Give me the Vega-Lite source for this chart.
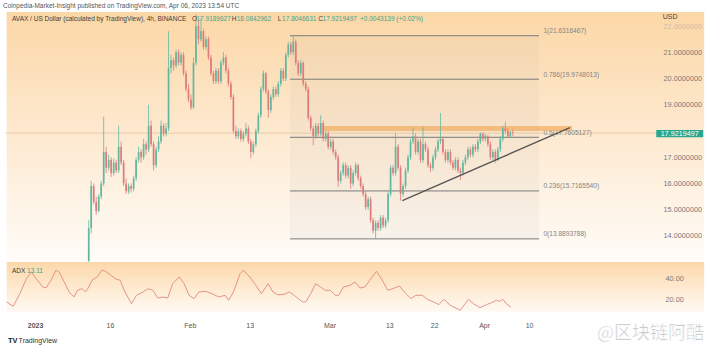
{
  "$schema": "https://vega.github.io/schema/vega-lite/v6.json",
  "width": 718,
  "height": 342,
  "autosize": {"type": "none"},
  "padding": {"left": 0, "top": 12, "right": 0, "bottom": 0},
  "background": "#ffffff",
  "config": {"view": {"stroke": null}, "font": "Liberation Sans", "axis": {"grid": false, "title": null}},
  "title": {"text": "Coinpedia-Market-Insight published on TradingView.com, Apr 06, 2023 13:54 UTC", "anchor": "start", "frame": "group", "fontSize": 6.5, "fontWeight": "normal", "color": "#555555", "font": "Liberation Sans", "offset": 3, "dx": 3},
  "datasets": {
    "candles": [
      {"d":10.75,"o":13.05,"h":14.6,"l":12.98,"c":14.3},
      {"d":11.25,"o":14.3,"h":16.1,"l":14.1,"c":15.9},
      {"d":11.75,"o":15.9,"h":16.0,"l":15.2,"c":15.3},
      {"d":12.25,"o":15.3,"h":15.5,"l":14.8,"c":14.95},
      {"d":12.75,"o":14.95,"h":15.6,"l":14.9,"c":15.5},
      {"d":13.25,"o":15.5,"h":16.1,"l":15.4,"c":16.0},
      {"d":13.75,"o":16.0,"h":18.55,"l":15.9,"c":17.2},
      {"d":14.25,"o":17.2,"h":17.4,"l":16.4,"c":16.6},
      {"d":14.75,"o":16.6,"h":17.1,"l":16.5,"c":16.9},
      {"d":15.25,"o":16.9,"h":17.0,"l":16.25,"c":16.4},
      {"d":15.75,"o":16.4,"h":16.95,"l":16.3,"c":16.8},
      {"d":16.25,"o":16.8,"h":16.9,"l":16.4,"c":16.5},
      {"d":16.75,"o":16.5,"h":18.2,"l":16.4,"c":17.4},
      {"d":17.25,"o":17.4,"h":17.6,"l":16.7,"c":16.8},
      {"d":17.75,"o":16.8,"h":16.9,"l":15.9,"c":16.0},
      {"d":18.25,"o":16.0,"h":16.2,"l":15.6,"c":15.7},
      {"d":18.75,"o":15.7,"h":16.0,"l":15.6,"c":15.9},
      {"d":19.25,"o":15.9,"h":16.0,"l":15.65,"c":15.8},
      {"d":19.75,"o":15.8,"h":16.3,"l":15.7,"c":16.2},
      {"d":20.25,"o":16.2,"h":17.0,"l":16.1,"c":16.9},
      {"d":20.75,"o":16.9,"h":17.4,"l":16.8,"c":17.2},
      {"d":21.25,"o":17.2,"h":17.3,"l":16.8,"c":17.0},
      {"d":21.75,"o":17.0,"h":17.7,"l":16.9,"c":17.5},
      {"d":22.25,"o":17.5,"h":17.6,"l":17.1,"c":17.3},
      {"d":22.75,"o":17.3,"h":19.0,"l":17.2,"c":18.2},
      {"d":23.25,"o":18.2,"h":18.4,"l":17.4,"c":17.5},
      {"d":23.75,"o":17.5,"h":17.6,"l":16.5,"c":16.7},
      {"d":24.25,"o":16.7,"h":17.4,"l":16.6,"c":17.3},
      {"d":24.75,"o":17.3,"h":17.8,"l":17.2,"c":17.6},
      {"d":25.25,"o":17.6,"h":18.4,"l":17.5,"c":18.2},
      {"d":25.75,"o":18.2,"h":18.3,"l":17.8,"c":17.9},
      {"d":26.25,"o":17.9,"h":18.3,"l":17.8,"c":18.1},
      {"d":26.75,"o":18.1,"h":21.8,"l":18.0,"c":20.4},
      {"d":27.25,"o":20.4,"h":20.9,"l":20.2,"c":20.7},
      {"d":27.75,"o":20.7,"h":20.8,"l":20.3,"c":20.5},
      {"d":28.25,"o":20.5,"h":21.1,"l":20.4,"c":21.0},
      {"d":28.75,"o":21.0,"h":21.1,"l":20.5,"c":20.6},
      {"d":29.25,"o":20.6,"h":21.0,"l":20.5,"c":20.9},
      {"d":29.75,"o":20.9,"h":21.0,"l":20.1,"c":20.2},
      {"d":30.25,"o":20.2,"h":20.3,"l":19.5,"c":19.6},
      {"d":30.75,"o":19.6,"h":19.8,"l":19.1,"c":19.2},
      {"d":31.25,"o":19.2,"h":19.4,"l":18.8,"c":18.9},
      {"d":31.75,"o":18.9,"h":20.8,"l":18.85,"c":20.6},
      {"d":32.25,"o":20.6,"h":22.45,"l":20.5,"c":22.0},
      {"d":32.75,"o":22.0,"h":22.2,"l":21.3,"c":21.5},
      {"d":33.25,"o":21.5,"h":22.3,"l":21.4,"c":21.8},
      {"d":33.75,"o":21.8,"h":21.9,"l":21.1,"c":21.2},
      {"d":34.25,"o":21.2,"h":21.6,"l":21.1,"c":21.5},
      {"d":34.75,"o":21.5,"h":21.6,"l":20.7,"c":20.8},
      {"d":35.25,"o":20.8,"h":20.9,"l":20.1,"c":20.2},
      {"d":35.75,"o":20.2,"h":20.3,"l":19.8,"c":19.9},
      {"d":36.25,"o":19.9,"h":20.4,"l":19.8,"c":20.3},
      {"d":36.75,"o":20.3,"h":20.4,"l":19.8,"c":19.9},
      {"d":37.25,"o":19.9,"h":20.7,"l":19.8,"c":20.6},
      {"d":37.75,"o":20.6,"h":21.0,"l":20.5,"c":20.8},
      {"d":38.25,"o":20.8,"h":20.9,"l":20.2,"c":20.3},
      {"d":38.75,"o":20.3,"h":20.4,"l":19.7,"c":19.8},
      {"d":39.25,"o":19.8,"h":19.9,"l":19.2,"c":19.3},
      {"d":39.75,"o":19.3,"h":19.4,"l":17.9,"c":18.0},
      {"d":40.25,"o":18.0,"h":18.2,"l":17.7,"c":17.8},
      {"d":40.75,"o":17.8,"h":18.1,"l":17.7,"c":18.0},
      {"d":41.25,"o":18.0,"h":18.1,"l":17.6,"c":17.7},
      {"d":41.75,"o":17.7,"h":18.0,"l":17.6,"c":17.9},
      {"d":42.25,"o":17.9,"h":18.3,"l":17.8,"c":18.1},
      {"d":42.75,"o":18.1,"h":18.2,"l":17.5,"c":17.6},
      {"d":43.25,"o":17.6,"h":17.7,"l":16.97,"c":17.2},
      {"d":43.75,"o":17.2,"h":17.6,"l":17.1,"c":17.5},
      {"d":44.25,"o":17.5,"h":18.1,"l":17.4,"c":18.0},
      {"d":44.75,"o":18.0,"h":18.7,"l":17.9,"c":18.6},
      {"d":45.25,"o":18.6,"h":19.7,"l":18.5,"c":19.6},
      {"d":45.75,"o":19.6,"h":20.3,"l":19.5,"c":20.2},
      {"d":46.25,"o":20.2,"h":20.25,"l":19.4,"c":19.5},
      {"d":46.75,"o":19.5,"h":19.6,"l":18.5,"c":18.8},
      {"d":47.25,"o":18.8,"h":19.4,"l":18.7,"c":19.3},
      {"d":47.75,"o":19.3,"h":19.7,"l":19.2,"c":19.6},
      {"d":48.25,"o":19.6,"h":19.7,"l":19.3,"c":19.4},
      {"d":48.75,"o":19.4,"h":19.9,"l":19.3,"c":19.8},
      {"d":49.25,"o":19.8,"h":20.4,"l":19.7,"c":20.3},
      {"d":49.75,"o":20.3,"h":20.4,"l":19.9,"c":20.0},
      {"d":50.25,"o":20.0,"h":21.0,"l":19.9,"c":20.9},
      {"d":50.75,"o":20.9,"h":21.4,"l":20.8,"c":21.3},
      {"d":51.25,"o":21.3,"h":21.4,"l":20.9,"c":21.0},
      {"d":51.75,"o":21.0,"h":21.66,"l":20.9,"c":21.4},
      {"d":52.25,"o":21.4,"h":21.5,"l":20.5,"c":20.6},
      {"d":52.75,"o":20.6,"h":20.7,"l":20.1,"c":20.2},
      {"d":53.25,"o":20.2,"h":20.7,"l":20.1,"c":20.6},
      {"d":53.75,"o":20.6,"h":20.65,"l":19.7,"c":19.8},
      {"d":54.25,"o":19.8,"h":19.9,"l":19.5,"c":19.6},
      {"d":54.75,"o":19.6,"h":19.7,"l":18.4,"c":18.5},
      {"d":55.25,"o":18.5,"h":18.6,"l":18.0,"c":18.1},
      {"d":55.75,"o":18.1,"h":18.2,"l":17.46,"c":17.8},
      {"d":56.25,"o":17.8,"h":18.3,"l":17.7,"c":18.2},
      {"d":56.75,"o":18.2,"h":18.3,"l":17.8,"c":17.9},
      {"d":57.25,"o":17.9,"h":18.6,"l":17.8,"c":18.3},
      {"d":57.75,"o":18.3,"h":18.4,"l":17.6,"c":17.7},
      {"d":58.25,"o":17.7,"h":18.0,"l":17.6,"c":17.9},
      {"d":58.75,"o":17.9,"h":18.0,"l":17.3,"c":17.4},
      {"d":59.25,"o":17.4,"h":17.7,"l":17.3,"c":17.6},
      {"d":59.75,"o":17.6,"h":17.7,"l":17.1,"c":17.2},
      {"d":60.25,"o":17.2,"h":17.3,"l":16.9,"c":17.0},
      {"d":60.75,"o":17.0,"h":17.1,"l":15.87,"c":16.1},
      {"d":61.25,"o":16.1,"h":16.5,"l":16.0,"c":16.4},
      {"d":61.75,"o":16.4,"h":16.8,"l":16.3,"c":16.7},
      {"d":62.25,"o":16.7,"h":16.8,"l":16.2,"c":16.3},
      {"d":62.75,"o":16.3,"h":16.7,"l":16.2,"c":16.6},
      {"d":63.25,"o":16.6,"h":16.7,"l":15.8,"c":16.0},
      {"d":63.75,"o":16.0,"h":16.5,"l":15.9,"c":16.4},
      {"d":64.25,"o":16.4,"h":16.8,"l":16.3,"c":16.7},
      {"d":64.75,"o":16.7,"h":16.75,"l":16.1,"c":16.2},
      {"d":65.25,"o":16.2,"h":16.3,"l":15.8,"c":15.9},
      {"d":65.75,"o":15.9,"h":16.0,"l":15.5,"c":15.6},
      {"d":66.25,"o":15.6,"h":15.7,"l":15.0,"c":15.1},
      {"d":66.75,"o":15.1,"h":15.5,"l":15.0,"c":15.4},
      {"d":67.25,"o":15.4,"h":15.5,"l":14.5,"c":14.6},
      {"d":67.75,"o":14.6,"h":14.7,"l":14.1,"c":14.2},
      {"d":68.25,"o":14.2,"h":14.6,"l":13.92,"c":14.5},
      {"d":68.75,"o":14.5,"h":14.6,"l":14.2,"c":14.3},
      {"d":69.25,"o":14.3,"h":14.8,"l":14.2,"c":14.7},
      {"d":69.75,"o":14.7,"h":14.8,"l":14.3,"c":14.4},
      {"d":70.25,"o":14.4,"h":14.7,"l":14.3,"c":14.6},
      {"d":70.75,"o":14.6,"h":15.7,"l":14.5,"c":15.6},
      {"d":71.25,"o":15.6,"h":16.7,"l":15.5,"c":16.6},
      {"d":71.75,"o":16.6,"h":16.7,"l":16.3,"c":16.4},
      {"d":72.25,"o":16.4,"h":17.92,"l":16.3,"c":17.4},
      {"d":72.75,"o":17.4,"h":17.5,"l":16.5,"c":16.6},
      {"d":73.25,"o":16.6,"h":16.7,"l":15.35,"c":15.6},
      {"d":73.75,"o":15.6,"h":16.0,"l":15.5,"c":15.9},
      {"d":74.25,"o":15.9,"h":16.6,"l":15.8,"c":16.5},
      {"d":74.75,"o":16.5,"h":17.1,"l":16.4,"c":17.0},
      {"d":75.25,"o":17.0,"h":17.7,"l":16.9,"c":17.6},
      {"d":75.75,"o":17.6,"h":18.15,"l":17.5,"c":17.8},
      {"d":76.25,"o":17.8,"h":17.9,"l":17.1,"c":17.2},
      {"d":76.75,"o":17.2,"h":17.7,"l":17.1,"c":17.6},
      {"d":77.25,"o":17.6,"h":17.7,"l":16.8,"c":16.9},
      {"d":77.75,"o":16.9,"h":18.15,"l":16.8,"c":17.5},
      {"d":78.25,"o":17.5,"h":17.6,"l":17.2,"c":17.3},
      {"d":78.75,"o":17.3,"h":17.4,"l":16.6,"c":16.7},
      {"d":79.25,"o":16.7,"h":16.8,"l":16.44,"c":16.6},
      {"d":79.75,"o":16.6,"h":17.1,"l":16.5,"c":17.0},
      {"d":80.25,"o":17.0,"h":17.4,"l":16.9,"c":17.3},
      {"d":80.75,"o":17.3,"h":17.7,"l":17.2,"c":17.6},
      {"d":81.25,"o":17.6,"h":18.69,"l":17.5,"c":17.7},
      {"d":81.75,"o":17.7,"h":17.8,"l":17.1,"c":17.2},
      {"d":82.25,"o":17.2,"h":17.3,"l":16.8,"c":16.9},
      {"d":82.75,"o":16.9,"h":17.3,"l":16.8,"c":17.2},
      {"d":83.25,"o":17.2,"h":17.3,"l":16.7,"c":16.8},
      {"d":83.75,"o":16.8,"h":16.9,"l":16.5,"c":16.6},
      {"d":84.25,"o":16.6,"h":17.0,"l":16.5,"c":16.9},
      {"d":84.75,"o":16.9,"h":17.0,"l":16.4,"c":16.5},
      {"d":85.25,"o":16.5,"h":16.6,"l":16.13,"c":16.4},
      {"d":85.75,"o":16.4,"h":16.9,"l":16.3,"c":16.8},
      {"d":86.25,"o":16.8,"h":17.1,"l":16.7,"c":17.0},
      {"d":86.75,"o":17.0,"h":17.4,"l":16.9,"c":17.3},
      {"d":87.25,"o":17.3,"h":17.4,"l":17.0,"c":17.1},
      {"d":87.75,"o":17.1,"h":17.5,"l":17.0,"c":17.4},
      {"d":88.25,"o":17.4,"h":17.5,"l":17.2,"c":17.3},
      {"d":88.75,"o":17.3,"h":17.7,"l":17.2,"c":17.6},
      {"d":89.25,"o":17.6,"h":17.95,"l":17.5,"c":17.9},
      {"d":89.75,"o":17.9,"h":17.95,"l":17.6,"c":17.7},
      {"d":90.25,"o":17.7,"h":17.9,"l":17.6,"c":17.8},
      {"d":90.75,"o":17.8,"h":17.85,"l":17.4,"c":17.5},
      {"d":91.25,"o":17.5,"h":17.6,"l":16.9,"c":17.0},
      {"d":91.75,"o":17.0,"h":17.3,"l":16.9,"c":17.2},
      {"d":92.25,"o":17.2,"h":17.3,"l":16.78,"c":16.9},
      {"d":92.75,"o":16.9,"h":17.4,"l":16.85,"c":17.3},
      {"d":93.25,"o":17.3,"h":17.8,"l":17.2,"c":17.7},
      {"d":93.75,"o":17.7,"h":18.2,"l":17.6,"c":18.1},
      {"d":94.25,"o":18.1,"h":18.36,"l":17.9,"c":18.0},
      {"d":94.75,"o":18.0,"h":18.1,"l":17.75,"c":17.8},
      {"d":95.25,"o":17.8,"h":18.0,"l":17.75,"c":17.95},
      {"d":95.75,"o":17.95,"h":18.08,"l":17.8,"c":17.92}
    ],
    "adx": [
      {"d":-5.69,"v":18.2},{"d":-4.38,"v":14.2},{"d":-3.06,"v":25.8},{"d":-1.74,"v":39.6},{"d":-0.75,"v":45.8},
      {"d":0.24,"v":39.6},{"d":1.55,"v":32.0},{"d":2.21,"v":31.1},{"d":3.2,"v":38.2},{"d":4.19,"v":47.4},
      {"d":4.84,"v":45.8},{"d":5.83,"v":36.6},{"d":6.82,"v":27.4},{"d":7.81,"v":22.8},{"d":8.46,"v":28.9},
      {"d":9.45,"v":30.4},{"d":10.12,"v":27.4},{"d":10.77,"v":32.0},{"d":11.42,"v":38.2},{"d":12.41,"v":41.2},
      {"d":13.4,"v":47.4},{"d":14.07,"v":46.5},{"d":15.06,"v":43.3},{"d":16.05,"v":39.6},{"d":17.04,"v":38.2},
      {"d":18.02,"v":27.4},{"d":19.33,"v":16.6},{"d":20.32,"v":24.3},{"d":21.64,"v":27.4},{"d":22.63,"v":30.4},
      {"d":23.62,"v":28.9},{"d":24.6,"v":21.8},{"d":25.59,"v":22.8},{"d":26.58,"v":21.8},{"d":27.57,"v":35.0},
      {"d":28.89,"v":41.2},{"d":29.88,"v":35.0},{"d":30.87,"v":24.3},{"d":31.86,"v":21.2},{"d":32.85,"v":27.4},
      {"d":34.15,"v":28.0},{"d":35.47,"v":25.8},{"d":36.8,"v":22.8},{"d":38.1,"v":24.3},{"d":38.77,"v":19.7},
      {"d":39.76,"v":27.4},{"d":41.07,"v":44.2},{"d":41.74,"v":47.4},{"d":43.04,"v":41.2},{"d":44.03,"v":35.0},
      {"d":45.36,"v":25.8},{"d":46.68,"v":35.0},{"d":47.67,"v":27.4},{"d":48.66,"v":24.8},{"d":49.96,"v":25.3},
      {"d":50.95,"v":27.4},{"d":51.94,"v":24.3},{"d":53.6,"v":18.2},{"d":54.25,"v":18.2},{"d":55.24,"v":25.8},
      {"d":56.23,"v":35.0},{"d":57.21,"v":32.0},{"d":58.2,"v":28.9},{"d":59.19,"v":28.9},{"d":60.18,"v":24.3},
      {"d":60.83,"v":24.3},{"d":61.82,"v":32.0},{"d":63.14,"v":33.5},{"d":64.13,"v":36.6},{"d":65.12,"v":31.1},
      {"d":66.11,"v":32.0},{"d":67.09,"v":38.2},{"d":68.42,"v":46.5},{"d":69.41,"v":39.6},{"d":70.71,"v":28.9},
      {"d":72.04,"v":31.1},{"d":73.02,"v":32.9},{"d":74.01,"v":27.4},{"d":75.34,"v":21.2},{"d":76.32,"v":24.3},
      {"d":77.63,"v":24.3},{"d":78.62,"v":20.6},{"d":79.6,"v":18.8},{"d":80.93,"v":15.7},{"d":81.92,"v":20.6},
      {"d":83.24,"v":15.1},{"d":85.22,"v":10.5},{"d":86.21,"v":16.6},{"d":86.86,"v":20.6},{"d":87.85,"v":16.6},
      {"d":89.17,"v":12.9},{"d":90.47,"v":15.7},{"d":91.46,"v":17.5},{"d":92.45,"v":19.7},{"d":93.12,"v":18.8},
      {"d":93.77,"v":20.6},{"d":94.43,"v":16.6},{"d":95.41,"v":13.1}
    ],
    "fib": [
      {"price":21.6316467,"label":"1(21.6316467)"},
      {"price":19.9748013,"label":"0.786(19.9748013)"},
      {"price":17.7605127,"label":"0.5(17.7605127)"},
      {"price":15.716554,"label":"0.236(15.7165540)"},
      {"price":13.8893788,"label":"0(13.8893788)"}
    ],
    "legend": [
      {"d":-4.64,"t":"AVAX / US Dollar (calculated by TradingView), 4h, BINANCE","part":"name"},
      {"d":31.46,"t":"O","part":"name"},{"d":32.35,"t":"17.9189627","part":"value"},
      {"d":39.43,"t":"H","part":"name"},{"d":40.42,"t":"18.0842962","part":"value"},
      {"d":48.66,"t":"L","part":"name"},{"d":49.51,"t":"17.8046631","part":"value"},
      {"d":56.76,"t":"C","part":"name"},{"d":57.61,"t":"17.9219497","part":"value"},
      {"d":65.12,"t":"+0.0043139 (+0.02%)","part":"value"}
    ]
  },
  "resolve": {"scale": {"y": "independent"}},
  "layer": [
    {
      "layer": [
        {
          "data": {"values": [{}]},
          "mark": {"type": "rect", "fill": {"gradient": "linear", "x1": 0, "y1": 0, "x2": 0, "y2": 1, "stops": [{"offset": 0, "color": "#fcd7a6"}, {"offset": 0.45, "color": "#fde8cd"}, {"offset": 1, "color": "#fffcf8"}]}},
          "encoding": {
            "x": {"datum": -5.7, "type": "quantitative", "scale": {"domain": [-6.028, 135.87], "nice": false, "zero": false},
              "axis": {"orient": "bottom", "offset": -36, "values": [0, 15, 31, 43, 59, 71, 80, 90, 99],
                "labelExpr": "datum.value == 0 ? '2023' : datum.value == 15 ? '16' : datum.value == 31 ? 'Feb' : datum.value == 43 ? '13' : datum.value == 59 ? 'Mar' : datum.value == 71 ? '13' : datum.value == 80 ? '22' : datum.value == 90 ? 'Apr' : '10'",
                "domain": false, "ticks": false, "tickSize": 0, "grid": false, "labelPadding": 3, "labelFontSize": 7, "labelColor": "#555555",
                "labelFontWeight": {"condition": {"test": "datum.value == 0", "value": "bold"}, "value": "normal"},
                "title": null, "zindex": 1, "labelOverlap": false, "labelFlush": false}},
            "x2": {"datum": 134.1},
            "y": {"datum": 22.536, "type": "quantitative", "scale": {"domain": [9.502, 22.536], "nice": false, "zero": false},
              "axis": {"orient": "right", "offset": -57, "values": [14, 15, 16, 17, 19, 20, 21, 22], "format": ".7f",
                "domain": false, "ticks": false, "tickSize": 0, "grid": false, "labelPadding": 2, "labelAlign": "left", "labelBaseline": "middle",
                "labelFontSize": 7.3, "labelColor": {"condition": {"test": "datum.value == 22", "value": "#cdbba5"}, "value": "#7a7a7a"},
                "title": null, "zindex": 1, "labelOverlap": false, "labelFlush": false}},
            "y2": {"datum": 12.98}
          }
        },
        {
          "data": {"values": [{}]},
          "mark": {"type": "rect", "fill": "#9a9a9a", "opacity": 0.07},
          "encoding": {
            "x": {"datum": 51.09, "type": "quantitative", "scale": {"domain": [-6.028, 135.87], "nice": false, "zero": false}},
            "x2": {"datum": 101.0},
            "y": {"datum": 21.6316467, "type": "quantitative", "scale": {"domain": [9.502, 22.536], "nice": false, "zero": false}},
            "y2": {"datum": 13.8893788}
          }
        },
        {
          "data": {"values": [{}]},
          "mark": {"type": "rule", "color": "#e6c49a", "strokeWidth": 1, "opacity": 0.8},
          "encoding": {
            "x": {"datum": -6.0, "type": "quantitative", "scale": {"domain": [-6.028, 135.87], "nice": false, "zero": false}},
            "x2": {"datum": 124.5},
            "y": {"datum": 17.9219497, "type": "quantitative", "scale": {"domain": [9.502, 22.536], "nice": false, "zero": false}}
          }
        },
        {
          "data": {"name": "fib"},
          "mark": {"type": "rule", "color": "#7a7a7a", "strokeWidth": 1},
          "encoding": {
            "x": {"datum": 51.09, "type": "quantitative", "scale": {"domain": [-6.028, 135.87], "nice": false, "zero": false}},
            "x2": {"datum": 101.0},
            "y": {"field": "price", "type": "quantitative", "scale": {"domain": [9.502, 22.536], "nice": false, "zero": false}}
          }
        },
        {
          "data": {"name": "fib"},
          "mark": {"type": "text", "align": "left", "baseline": "middle", "dy": -4.5, "fontSize": 6.6, "color": "#858585"},
          "encoding": {
            "x": {"datum": 101.88, "type": "quantitative", "scale": {"domain": [-6.028, 135.87], "nice": false, "zero": false}},
            "y": {"field": "price", "type": "quantitative", "scale": {"domain": [9.502, 22.536], "nice": false, "zero": false}},
            "text": {"field": "label"}
          }
        },
        {
          "data": {"values": [{}]},
          "mark": {"type": "rect", "fill": "#f2ad5e", "opacity": 0.7},
          "encoding": {
            "x": {"datum": 57.87, "type": "quantitative", "scale": {"domain": [-6.028, 135.87], "nice": false, "zero": false}},
            "x2": {"datum": 107.6},
            "y": {"datum": 18.19, "type": "quantitative", "scale": {"domain": [9.502, 22.536], "nice": false, "zero": false}},
            "y2": {"datum": 18.0}
          }
        },
        {
          "data": {"name": "candles"},
          "mark": {"type": "rule", "strokeWidth": 0.8},
          "encoding": {
            "x": {"field": "d", "type": "quantitative", "scale": {"domain": [-6.028, 135.87], "nice": false, "zero": false}},
            "y": {"field": "l", "type": "quantitative", "scale": {"domain": [9.502, 22.536], "nice": false, "zero": false}},
            "y2": {"field": "h"},
            "color": {"condition": {"test": "datum.c >= datum.o", "value": "#62b89f"}, "value": "#e07b7b"}
          }
        },
        {
          "data": {"name": "candles"},
          "mark": {"type": "bar", "size": 1.7},
          "encoding": {
            "x": {"field": "d", "type": "quantitative", "scale": {"domain": [-6.028, 135.87], "nice": false, "zero": false}},
            "y": {"field": "o", "type": "quantitative", "scale": {"domain": [9.502, 22.536], "nice": false, "zero": false}},
            "y2": {"field": "c"},
            "color": {"condition": {"test": "datum.c >= datum.o", "value": "#62b89f"}, "value": "#e07b7b"}
          }
        },
        {
          "data": {"values": [{"d1": 73.6, "p1": 15.35, "d2": 107.2, "p2": 18.13}]},
          "mark": {"type": "rule", "color": "#555555", "strokeWidth": 1.3},
          "encoding": {
            "x": {"field": "d1", "type": "quantitative", "scale": {"domain": [-6.028, 135.87], "nice": false, "zero": false}},
            "x2": {"field": "d2"},
            "y": {"field": "p1", "type": "quantitative", "scale": {"domain": [9.502, 22.536], "nice": false, "zero": false}},
            "y2": {"field": "p2"}
          }
        },
        {
          "data": {"values": [{}]},
          "mark": {"type": "rect", "fill": "#2aa68e"},
          "encoding": {
            "x": {"datum": 124.5, "type": "quantitative", "scale": {"domain": [-6.028, 135.87], "nice": false, "zero": false}},
            "x2": {"datum": 133.9},
            "y": {"datum": 18.04, "type": "quantitative", "scale": {"domain": [9.502, 22.536], "nice": false, "zero": false}},
            "y2": {"datum": 17.76}
          }
        },
        {
          "data": {"values": [{"t": "17.9219497"}]},
          "mark": {"type": "text", "align": "center", "baseline": "middle", "fontSize": 7.2, "color": "#ffffff"},
          "encoding": {
            "x": {"datum": 129.2, "type": "quantitative", "scale": {"domain": [-6.028, 135.87], "nice": false, "zero": false}},
            "y": {"datum": 17.9, "type": "quantitative", "scale": {"domain": [9.502, 22.536], "nice": false, "zero": false}},
            "text": {"field": "t"}
          }
        },
        {
          "data": {"values": [{"t": "USD"}]},
          "mark": {"type": "text", "align": "left", "baseline": "middle", "fontSize": 7, "color": "#444444"},
          "encoding": {
            "x": {"datum": 125.8, "type": "quantitative", "scale": {"domain": [-6.028, 135.87], "nice": false, "zero": false}},
            "y": {"datum": 22.345, "type": "quantitative", "scale": {"domain": [9.502, 22.536], "nice": false, "zero": false}},
            "text": {"field": "t"}
          }
        },
        {
          "data": {"name": "legend"},
          "mark": {"type": "text", "align": "left", "baseline": "middle", "fontSize": 6.5},
          "encoding": {
            "x": {"field": "d", "type": "quantitative", "scale": {"domain": [-6.028, 135.87], "nice": false, "zero": false}},
            "y": {"datum": 22.27, "type": "quantitative", "scale": {"domain": [9.502, 22.536], "nice": false, "zero": false}},
            "text": {"field": "t"},
            "color": {"field": "part", "type": "nominal", "scale": {"domain": ["name", "value"], "range": ["#404040", "#3ea58c"]}, "legend": null}
          }
        }
      ]
    },
    {
      "layer": [
        {
          "data": {"values": [{}]},
          "mark": {"type": "rect", "fill": {"gradient": "linear", "x1": 0, "y1": 0, "x2": 0, "y2": 1, "stops": [{"offset": 0, "color": "#fcd8aa"}, {"offset": 1, "color": "#fffaf5"}]}},
          "encoding": {
            "x": {"datum": -5.7, "type": "quantitative", "scale": {"domain": [-6.028, 135.87], "nice": false, "zero": false}},
            "x2": {"datum": 134.1},
            "y": {"datum": 55.0, "type": "quantitative", "scale": {"domain": [-29.77, 285.4], "nice": false, "zero": false},
              "axis": {"orient": "right", "offset": -57, "values": [20, 40], "format": ".2f",
                "domain": false, "ticks": false, "tickSize": 0, "grid": false, "labelPadding": 4, "labelAlign": "left", "labelBaseline": "middle",
                "labelFontSize": 7.3, "labelColor": "#7a7a7a", "title": null, "zindex": 1, "labelOverlap": false, "labelFlush": false}},
            "y2": {"datum": 8.94}
          }
        },
        {
          "data": {"name": "adx"},
          "mark": {"type": "line", "color": "#e39486", "strokeWidth": 1},
          "encoding": {
            "x": {"field": "d", "type": "quantitative", "scale": {"domain": [-6.028, 135.87], "nice": false, "zero": false}},
            "y": {"field": "v", "type": "quantitative", "scale": {"domain": [-29.77, 285.4], "nice": false, "zero": false}}
          }
        },
        {
          "data": {"values": [{"t": "ADX", "d": -4.64, "part": "name"}, {"t": "13.11", "d": -1.6, "part": "value"}]},
          "mark": {"type": "text", "align": "left", "baseline": "middle", "fontSize": 6.5},
          "encoding": {
            "x": {"field": "d", "type": "quantitative", "scale": {"domain": [-6.028, 135.87], "nice": false, "zero": false}},
            "y": {"datum": 46.7, "type": "quantitative", "scale": {"domain": [-29.77, 285.4], "nice": false, "zero": false}},
            "text": {"field": "t"},
            "color": {"field": "part", "type": "nominal", "scale": {"domain": ["name", "value"], "range": ["#404040", "#e06a5e"]}, "legend": null}
          }
        },
        {
          "data": {"values": [{"t": "TV", "d": -5.45}]},
          "mark": {"type": "text", "align": "left", "baseline": "middle", "fontSize": 7.5, "fontWeight": "bold", "color": "#222222"},
          "encoding": {
            "x": {"field": "d", "type": "quantitative", "scale": {"domain": [-6.028, 135.87], "nice": false, "zero": false}},
            "y": {"datum": -17.8, "type": "quantitative", "scale": {"domain": [-29.77, 285.4], "nice": false, "zero": false}},
            "text": {"field": "t"}
          }
        },
        {
          "data": {"values": [{"t": "TradingView", "d": -3.3}]},
          "mark": {"type": "text", "align": "left", "baseline": "middle", "fontSize": 7, "color": "#333333"},
          "encoding": {
            "x": {"field": "d", "type": "quantitative", "scale": {"domain": [-6.028, 135.87], "nice": false, "zero": false}},
            "y": {"datum": -17.8, "type": "quantitative", "scale": {"domain": [-29.77, 285.4], "nice": false, "zero": false}},
            "text": {"field": "t"}
          }
        },
        {
          "data": {"values": [{"t": "@区块链阿酷", "d": 112.6}]},
          "mark": {"type": "text", "align": "left", "baseline": "middle", "fontSize": 18, "font": "Noto Sans CJK SC", "color": "#a9a9a9", "opacity": 0.8, "stroke": "#ffffff", "strokeWidth": 0.6},
          "encoding": {
            "x": {"field": "d", "type": "quantitative", "scale": {"domain": [-6.028, 135.87], "nice": false, "zero": false}},
            "y": {"datum": -11.3, "type": "quantitative", "scale": {"domain": [-29.77, 285.4], "nice": false, "zero": false}},
            "text": {"field": "t"}
          }
        }
      ]
    }
  ]
}
